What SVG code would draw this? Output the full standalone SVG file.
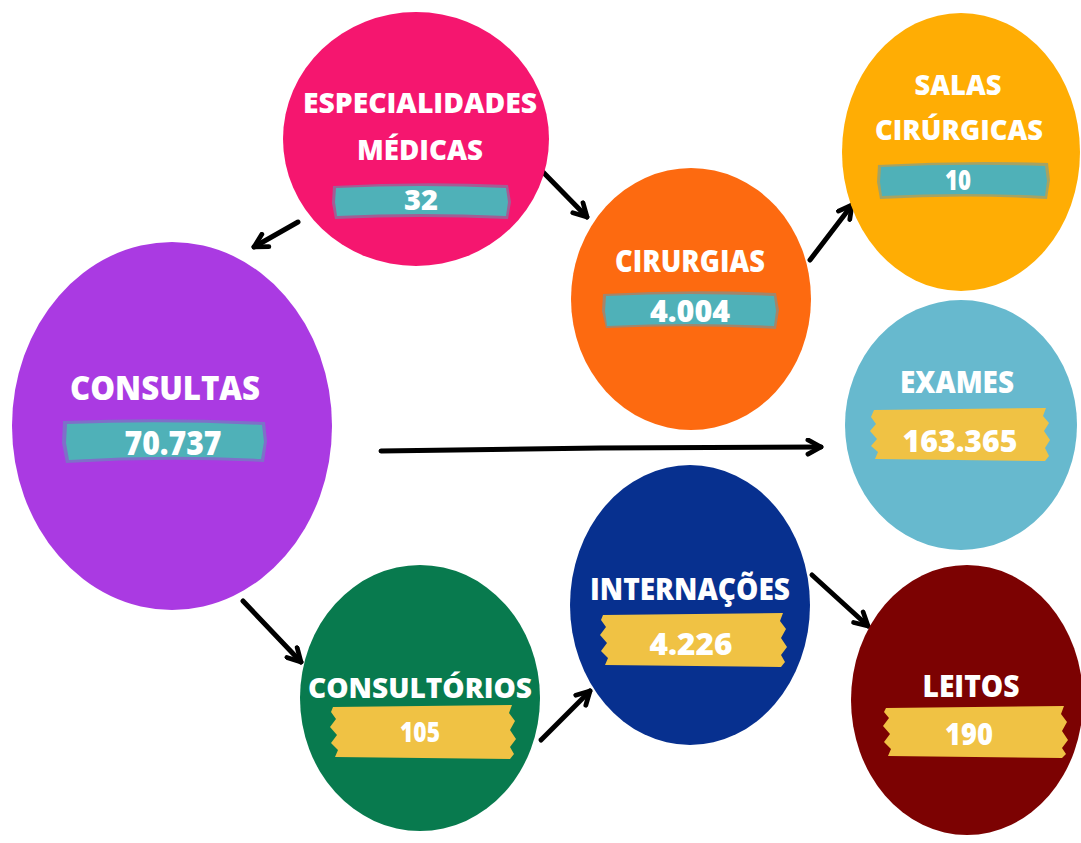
<svg xmlns="http://www.w3.org/2000/svg" width="1081" height="843" viewBox="0 0 1081 843">
<defs>
<marker id="arr" viewBox="0 0 16 16" refX="13.5" refY="8" markerWidth="19" markerHeight="19" markerUnits="userSpaceOnUse" orient="auto">
<path d="M2.5,2 L13.5,8 L2.5,14" fill="none" stroke="#000" stroke-width="4" stroke-linecap="round" stroke-linejoin="round"/>
</marker>
</defs>
<style>
.t{font-family:"Open Sans","Noto Sans","Liberation Sans",sans-serif;font-weight:800;fill:#fff;text-anchor:middle}
.teal{fill:#4FB1B8}
.tealEdge{fill:#5B9BB5;opacity:0.55}
.yel{fill:#F0C244}
.con{stroke:#000;stroke-width:5;fill:none;stroke-linecap:round;marker-end:url(#arr)}
</style>
<rect width="1081" height="843" fill="#fff"/>

<g id="connectors">
<line class="con" x1="298" y1="222" x2="254" y2="247"/>
<line class="con" x1="541" y1="170" x2="587" y2="217"/>
<line class="con" x1="810" y1="260" x2="852" y2="205"/>
<path class="con" d="M381,451 L600,448 L821,447"/>
<line class="con" x1="243" y1="601" x2="301" y2="662"/>
<line class="con" x1="541" y1="740" x2="590" y2="691"/>
<line class="con" x1="812" y1="575" x2="868" y2="626"/>
</g>

<g id="especialidades">
<ellipse cx="416" cy="139" rx="133" ry="127" fill="#F5166F"/>
<path class="tealEdge" d="M333,186 Q420,181 508,185 L511,202 L508,219 Q420,215 335,219 L332,203 Z"/>
<path class="teal" d="M336,188 Q420,184 506,188 L508,202 L506,216 Q420,212 337,216 L335,202 Z"/>
<text class="t" x="420" y="113" font-size="28" textLength="234" lengthAdjust="spacingAndGlyphs">ESPECIALIDADES</text>
<text class="t" x="420" y="160" font-size="28" textLength="126" lengthAdjust="spacingAndGlyphs">MÉDICAS</text>
<text class="t" x="421" y="210" font-size="28" textLength="34" lengthAdjust="spacingAndGlyphs">32</text>
</g>

<g id="cirurgias">
<ellipse cx="691" cy="299" rx="120" ry="131" fill="#FD6A10"/>
<path class="tealEdge" d="M603,294 Q690,289 776,293 L779,310 L776,329 Q690,324 606,328 L602,311 Z"/>
<path class="teal" d="M606,296 Q690,292 774,296 L776,311 L774,326 Q690,322 607,326 L605,311 Z"/>
<text class="t" x="690" y="272" font-size="30" textLength="150" lengthAdjust="spacingAndGlyphs">CIRURGIAS</text>
<text class="t" x="690" y="322" font-size="30" textLength="80" lengthAdjust="spacingAndGlyphs">4.004</text>
</g>

<g id="salas">
<ellipse cx="961" cy="152" rx="119" ry="139" fill="#FFAD04"/>
<path class="tealEdge" d="M878,165 Q964,160 1048,163 L1050,180 L1047,199 Q964,194 880,199 L877,182 Z"/>
<path class="teal" d="M881,167 Q964,163 1045,166 L1047,181 L1045,196 Q964,192 882,196 L880,182 Z"/>
<text class="t" x="958" y="95" font-size="28" textLength="87" lengthAdjust="spacingAndGlyphs">SALAS</text>
<text class="t" x="959" y="140" font-size="28" textLength="168" lengthAdjust="spacingAndGlyphs">CIRÚRGICAS</text>
<text class="t" x="958" y="190" font-size="28" textLength="26" lengthAdjust="spacingAndGlyphs">10</text>
</g>

<g id="consultas">
<ellipse cx="172" cy="426" rx="160" ry="184" fill="#AA3AE2"/>
<path class="tealEdge" d="M63,421 Q165,417 265,422 L267,441 L264,462 Q165,457 66,463 L62,443 Z"/>
<path class="teal" d="M67,424 Q165,420 262,425 L264,442 L261,459 Q165,454 69,460 L66,443 Z"/>
<text class="t" x="165" y="400" font-size="34" textLength="190" lengthAdjust="spacingAndGlyphs">CONSULTAS</text>
<text class="t" x="173" y="455" font-size="34" textLength="97" lengthAdjust="spacingAndGlyphs">70.737</text>
</g>

<g id="exames">
<ellipse cx="961" cy="425" rx="116" ry="125" fill="#67B9CE"/>
<path class="yel" d="M874,410 L1046,408 L1043,416 L1049,423 L1044,431 L1050,440 L1045,448 L1049,456 L1045,461 L875,459 L878,452 L871,446 L877,439 L870,431 L876,424 L871,417 Z"/>
<text class="t" x="957" y="393" font-size="30" textLength="114" lengthAdjust="spacingAndGlyphs">EXAMES</text>
<text class="t" x="960" y="452" font-size="30" textLength="115" lengthAdjust="spacingAndGlyphs">163.365</text>
</g>

<g id="internacoes">
<ellipse cx="690" cy="605" rx="120" ry="140" fill="#07308F"/>
<path class="yel" d="M603,615 L783,613 L780,621 L786,629 L781,638 L787,647 L781,655 L785,662 L781,667 L605,665 L608,658 L601,651 L607,643 L600,635 L606,627 L601,620 Z"/>
<text class="t" x="690" y="600" font-size="30" textLength="200" lengthAdjust="spacingAndGlyphs">INTERNAÇÕES</text>
<text class="t" x="691" y="655" font-size="30" textLength="83" lengthAdjust="spacingAndGlyphs">4.226</text>
</g>

<g id="consultorios">
<ellipse cx="420" cy="698" rx="120" ry="133" fill="#087A4E"/>
<path class="yel" d="M333,707 L512,705 L509,713 L515,721 L510,730 L516,739 L510,747 L514,754 L510,759 L335,757 L338,750 L331,743 L337,735 L330,727 L336,719 L331,712 Z"/>
<text class="t" x="420" y="698" font-size="29" textLength="224" lengthAdjust="spacingAndGlyphs">CONSULTÓRIOS</text>
<text class="t" x="420" y="742" font-size="28" textLength="40" lengthAdjust="spacingAndGlyphs">105</text>
</g>

<g id="leitos">
<ellipse cx="967" cy="700" rx="116" ry="135" fill="#7C0202"/>
<path class="yel" d="M886,708 L1064,706 L1061,714 L1067,722 L1062,731 L1068,740 L1062,748 L1066,754 L1062,758 L888,756 L891,749 L884,742 L890,734 L883,726 L889,718 L884,712 Z"/>
<text class="t" x="971" y="697" font-size="30" textLength="97" lengthAdjust="spacingAndGlyphs">LEITOS</text>
<text class="t" x="969" y="745" font-size="30" textLength="48" lengthAdjust="spacingAndGlyphs">190</text>
</g>
</svg>
